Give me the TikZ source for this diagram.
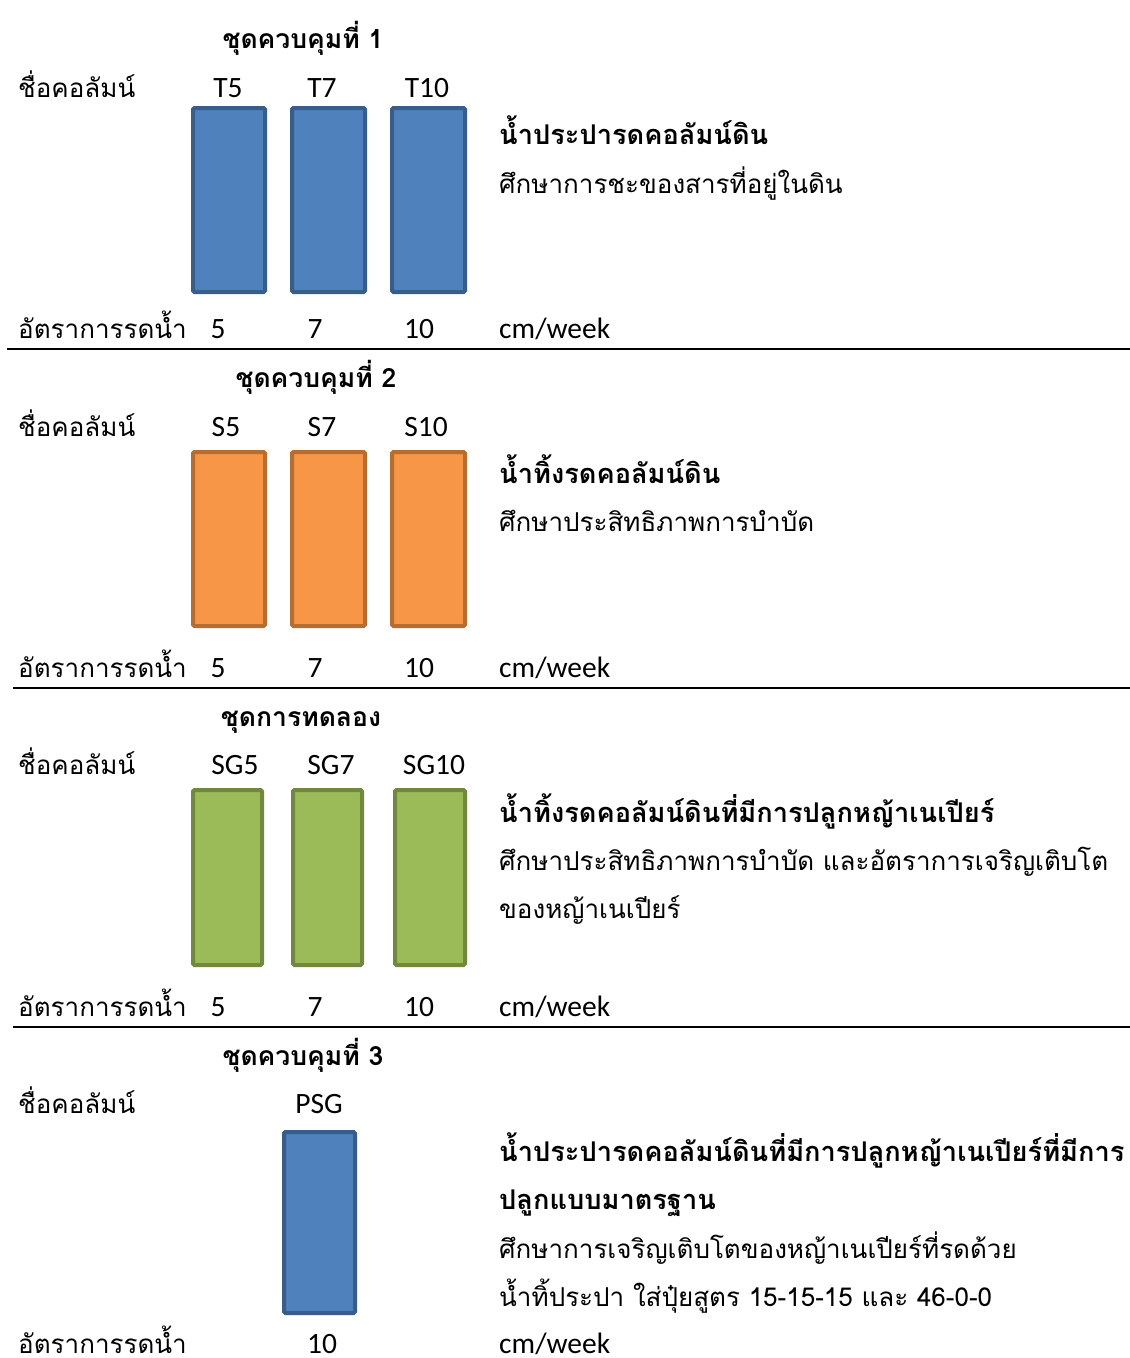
\documentclass[tikz,border=0pt]{standalone}
\usepackage{fontspec}
\newfontfamily\thai[Script=Thai]{Loma}
\setmainfont{Carlito}
\usetikzlibrary{positioning}
\definecolor{bfill}{HTML}{4F81BD}\definecolor{bdraw}{HTML}{385D8A}
\definecolor{ofill}{HTML}{F79646}\definecolor{odraw}{HTML}{B66D31}
\definecolor{gfill}{HTML}{9BBB59}\definecolor{gdraw}{HTML}{71893F}
\begin{document}
\begin{tikzpicture}[x=1pt,y=-1pt,
  th/.style={inner sep=0pt,anchor=base west,font=\thai\fontsize{26}{30}\selectfont},
  thb/.style={inner sep=0pt,anchor=base west,font=\thai\bfseries\fontsize{27.2}{30}\selectfont},
  ttl/.style={inner sep=0pt,anchor=base,font=\thai\bfseries\fontsize{26.5}{30}\selectfont},
  lat/.style={inner sep=0pt,anchor=base,font=\fontsize{29.5}{32}\selectfont},
  latw/.style={inner sep=0pt,anchor=base west,font=\fontsize{29.5}{32}\selectfont},
  col/.style={draw,line width=4pt,rounded corners=1.5pt,inner sep=0pt},
  bcol/.style={col,draw=bdraw,fill=bfill},
  ocol/.style={col,draw=odraw,fill=ofill},
  gcol/.style={col,draw=gdraw,fill=gfill},
  sep/.style={line width=2pt}]
\useasboundingbox (0,0) rectangle (1130,1358);
% ---------- section 1
\node[ttl] (t1) at (303,48) {ชุดควบคุมที่ 1};
\node[th] (n1) at (18,97) {ชื่อคอลัมน์};
\node[lat] (lT5) at (228,97) {T5};
\node[lat] (lT7) at (322,97) {T7};
\node[lat] (lT10) at (427,97) {T10};
\node[bcol,minimum width=72pt,minimum height=184pt] (T5) at (229,200) {};
\node[bcol,minimum width=73pt,minimum height=184pt] (T7) at (328.5,200) {};
\node[bcol,minimum width=73pt,minimum height=184pt] (T10) at (428.5,200) {};
\node[thb] (h1) at (499,144) {น้ำประปารดคอลัมน์ดิน};
\node[th] (d1) at (499,193) {ศึกษาการชะของสารที่อยู่ในดิน};
\node[th] (r1) at (18,338) {อัตราการรดน้ำ};
\node[lat] (v15) at (218,338) {5};
\node[lat] (v17) at (315,338) {7};
\node[lat] (v110) at (419,338) {10};
\node[latw] (u1) at (499,338) {cm/week};
\coordinate (s1a) at (7,349); \coordinate (s1b) at (1130,349);
\draw[sep] (s1a) -- (s1b);
% ---------- section 2
\node[ttl] (t2) at (316,387) {ชุดควบคุมที่ 2};
\node[th] (n2) at (18,436) {ชื่อคอลัมน์};
\node[lat] (lS5) at (226,436) {S5};
\node[lat] (lS7) at (322,436) {S7};
\node[lat] (lS10) at (426,436) {S10};
\node[ocol,minimum width=72pt,minimum height=174pt] (S5) at (229,539) {};
\node[ocol,minimum width=73pt,minimum height=174pt] (S7) at (328.5,539) {};
\node[ocol,minimum width=73pt,minimum height=174pt] (S10) at (428.5,539) {};
\node[thb] (h2) at (499,483) {น้ำทิ้งรดคอลัมน์ดิน};
\node[th] (d2) at (499,531) {ศึกษาประสิทธิภาพการบำบัด};
\node[th] (r2) at (18,677) {อัตราการรดน้ำ};
\node[lat] (v25) at (218,677) {5};
\node[lat] (v27) at (315,677) {7};
\node[lat] (v210) at (419,677) {10};
\node[latw] (u2) at (499,677) {cm/week};
\coordinate (s2a) at (13,688); \coordinate (s2b) at (1130,688);
\draw[sep] (s2a) -- (s2b);
% ---------- section 3
\node[ttl] (t3) at (301,726) {ชุดการทดลอง};
\node[th] (n3) at (18,774) {ชื่อคอลัมน์};
\node[lat] (lSG5) at (235,774) {SG5};
\node[lat] (lSG7) at (331,774) {SG7};
\node[lat] (lSG10) at (434,774) {SG10};
\node[gcol,minimum width=69pt,minimum height=175pt] (SG5) at (227.5,877.5) {};
\node[gcol,minimum width=69pt,minimum height=175pt] (SG7) at (327.5,877.5) {};
\node[gcol,minimum width=70pt,minimum height=175pt] (SG10) at (430,877.5) {};
\node[thb] (h3) at (499,822) {น้ำทิ้งรดคอลัมน์ดินที่มีการปลูกหญ้าเนเปียร์};
\node[th] (d3a) at (499,870) {ศึกษาประสิทธิภาพการบำบัด และอัตราการเจริญเติบโต};
\node[th] (d3b) at (499,918) {ของหญ้าเนเปียร์};
\node[th] (r3) at (18,1016) {อัตราการรดน้ำ};
\node[lat] (v35) at (218,1016) {5};
\node[lat] (v37) at (315,1016) {7};
\node[lat] (v310) at (419,1016) {10};
\node[latw] (u3) at (499,1016) {cm/week};
\coordinate (s3a) at (13,1027); \coordinate (s3b) at (1130,1027);
\draw[sep] (s3a) -- (s3b);
% ---------- section 4
\node[ttl] (t4) at (303,1065) {ชุดควบคุมที่ 3};
\node[th] (n4) at (18,1113) {ชื่อคอลัมน์};
\node[lat] (lPSG) at (319,1113) {PSG};
\node[bcol,minimum width=71pt,minimum height=181pt] (PSG) at (319.5,1222.5) {};
\node[thb] (h4a) at (499,1161) {น้ำประปารดคอลัมน์ดินที่มีการปลูกหญ้าเนเปียร์ที่มีการ};
\node[thb] (h4b) at (499,1209) {ปลูกแบบมาตรฐาน};
\node[th] (d4a) at (499,1258) {ศึกษาการเจริญเติบโตของหญ้าเนเปียร์ที่รดด้วย};
\node[th] (d4b) at (499,1306) {น้ำทิ้ประปา ใส่ปุ๋ยสูตร 15-15-15 และ 46-0-0};
\node[th] (r4) at (18,1353) {อัตราการรดน้ำ};
\node[lat] (v410) at (322,1353) {10};
\node[latw] (u4) at (499,1353) {cm/week};
\end{tikzpicture}
\end{document}
